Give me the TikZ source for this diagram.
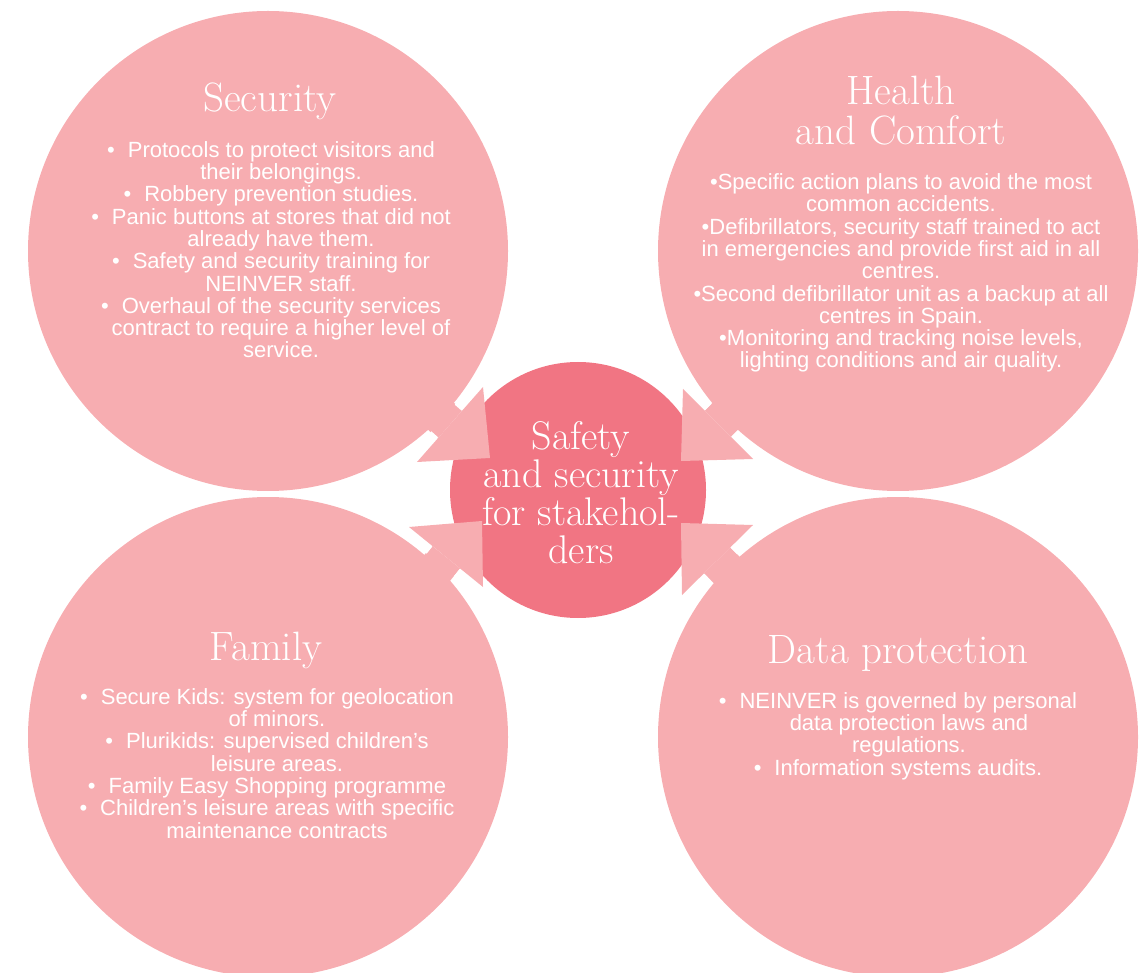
\documentclass[tikz,border=0pt]{standalone}
\usepackage{fontspec}
\newfontfamily\bodyfont{Liberation Sans}
\definecolor{lightpink}{RGB}{247,173,177}
\definecolor{darkpink}{RGB}{241,117,131}
\newcommand{\itembul}{\textbullet\hspace{13pt}}
\newcommand{\contind}{\hspace*{20pt}}
\begin{document}
\begin{tikzpicture}[x=1pt,y=-1pt,
  outer/.style={circle,fill=lightpink,minimum size=480pt,inner sep=0pt},
  hub/.style={circle,fill=darkpink,minimum size=256pt,inner sep=0pt},
  head/.style={fill=lightpink},
  gap/.style={draw=white,line width=9pt,line cap=butt},
  titletext/.style={text=white,font=\fontsize{41}{40}\selectfont,align=center,inner sep=0pt,anchor=base},
  hubtext/.style={text=white,font=\fontsize{40}{37.7}\selectfont,align=center,inner sep=0pt,anchor=base},
  bodytext/.style={text=white,font=\bodyfont\fontsize{22}{22.3}\selectfont,align=center,inner sep=0pt,anchor=base}]
\useasboundingbox (0,0) rectangle (1143,973);
\clip (0,0) rectangle (1143,973);
% circles
\node[outer] (sec) at (268,251) {};
\node[outer] (hea) at (898,251) {};
\node[outer] (fam) at (268,737) {};
\node[outer] (dat) at (898,737) {};
\node[hub] (hub) at (578,490) {};
% arrowhead corners
\coordinate (ulA) at (483,387); \coordinate (ulT) at (490,458); \coordinate (ulB) at (417,462);
\coordinate (urA) at (683,389); \coordinate (urT) at (681,461); \coordinate (urB) at (753,459);
\coordinate (llA) at (409,527); \coordinate (llT) at (482,521); \coordinate (llB) at (483,587);
\coordinate (lrA) at (753,525); \coordinate (lrT) at (681,523); \coordinate (lrB) at (682,595);
% shaft corners
\coordinate (ulP1) at (462.5,410.3); \coordinate (ulP2) at (437.8,438.4);
\coordinate (ulQ1) at (432.5,383.9); \coordinate (ulQ2) at (407.8,412.0);
\coordinate (urP1) at (704.7,410.7); \coordinate (urP2) at (731.0,437.0);
\coordinate (urQ1) at (733.0,382.4); \coordinate (urQ2) at (759.3,408.7);
\coordinate (llP1) at (431.9,545.6); \coordinate (llP2) at (460.1,568.4);
\coordinate (llQ1) at (406.7,576.7); \coordinate (llQ2) at (434.9,599.5);
\coordinate (lrP1) at (730.3,547.4); \coordinate (lrP2) at (704.0,573.3);
\coordinate (lrQ1) at (758.4,575.9); \coordinate (lrQ2) at (732.1,601.8);
% white outline pieces along arrowhead bases
\coordinate (ulS1) at (458.2,407.7); \coordinate (ulE1) at (492.4,368.7);
\coordinate (ulS2) at (434.7,434.3); \coordinate (ulE2) at (400.0,473.7);
\coordinate (urS1) at (708.2,407.2); \coordinate (urE1) at (672.5,371.5);
\coordinate (urS2) at (734.5,433.4); \coordinate (urE2) at (770.5,469.5);
\coordinate (llS1) at (429.5,550.1); \coordinate (llE1) at (391.0,518.9);
\coordinate (llS2) at (457.0,572.3); \coordinate (llE2) at (494.6,602.9);
\coordinate (lrS1) at (733.8,551.0); \coordinate (lrE1) at (770.7,514.6);
\coordinate (lrS2) at (707.5,577.0); \coordinate (lrE2) at (671.3,612.6);
% shafts
\fill[head] (ulP1) -- (ulP2) -- (ulQ2) -- (ulQ1) -- cycle;
\fill[head] (urP1) -- (urP2) -- (urQ2) -- (urQ1) -- cycle;
\fill[head] (llP1) -- (llP2) -- (llQ2) -- (llQ1) -- cycle;
\fill[head] (lrP1) -- (lrP2) -- (lrQ2) -- (lrQ1) -- cycle;
% white gaps
\draw[gap] (ulS1) -- (ulE1); \draw[gap] (ulS2) -- (ulE2);
\draw[gap] (urS1) -- (urE1); \draw[gap] (urS2) -- (urE2);
\draw[gap] (llS1) -- (llE1); \draw[gap] (llS2) -- (llE2);
\draw[gap] (lrS1) -- (lrE1); \draw[gap] (lrS2) -- (lrE2);
% arrowheads
\fill[head] (ulA) -- (ulT) -- (ulB) -- cycle;
\fill[head] (urA) -- (urT) -- (urB) -- cycle;
\fill[head] (llA) -- (llT) -- (llB) -- cycle;
\fill[head] (lrA) -- (lrT) -- (lrB) -- cycle;
% titles (anchor = baseline of last line)
\node[titletext] (sect) at (270,112) {Security};
\node[titletext] (heat) at (901,145) {Health\\and Comfort};
\node[titletext] (famt) at (266,660) {Family};
\node[titletext] (datt) at (898,663) {Data protection};
\node[hubtext] (hubt) at (581,563) {Safety\\and security\\for stakehol-\\ders};
% bodies
\node[bodytext] (secb) at (271,358) {\itembul Protocols to protect visitors and\\
\contind their belongings.\\
\itembul Robbery prevention studies.\\
\itembul Panic buttons at stores that did not\\
\contind already have them.\\
\itembul Safety and security training for\\
\contind NEINVER staff.\\
\itembul Overhaul of the security services\\
\contind contract to require a higher level of\\
\contind service.};
\node[bodytext] (heab) at (901,368) {\textbullet Specific action plans to avoid the most\\
common accidents.\\
\textbullet Defibrillators, security staff trained to act\\
in emergencies and provide first aid in all\\
centres.\\
\textbullet Second defibrillator unit as a backup at all\\
centres in Spain.\\
\textbullet Monitoring and tracking noise levels,\\
lighting conditions and air quality.};
\node[bodytext] (famb) at (267,838) {\itembul Secure Kids: system for geolocation\\
\contind of minors.\\
\itembul Plurikids: supervised children’s\\
\contind leisure areas.\\
\itembul Family Easy Shopping programme\\
\itembul Children’s leisure areas with specific\\
\contind maintenance contracts};
\node[bodytext] (datb) at (898,775) {\itembul NEINVER is governed by personal\\
\hspace*{22pt}data protection laws and\\
\hspace*{22pt}regulations.\\
\itembul Information systems audits.};
\end{tikzpicture}
\end{document}
